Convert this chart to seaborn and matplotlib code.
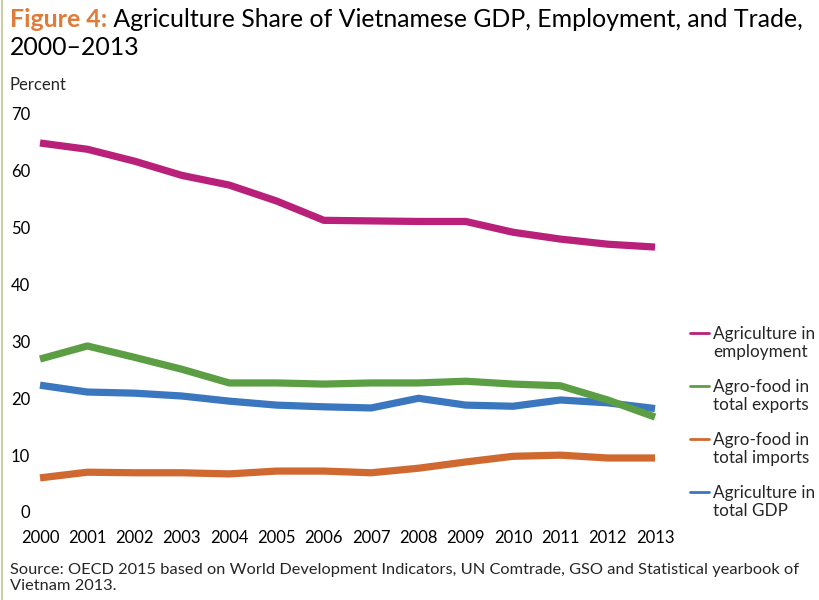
import pandas as pd
import matplotlib.pyplot as plt
import seaborn as sns
from matplotlib.lines import Line2D

# Dados
anos = list(range(2000, 2014))
emprego = [64.9, 63.8, 61.7, 59.2, 57.5, 54.7, 51.3, 51.2, 51.1, 51.1, 49.2, 48.0, 47.1, 46.6]
exportacoes = [26.9, 29.2, 27.2, 25.1, 22.7, 22.7, 22.5, 22.7, 22.7, 23.0, 22.5, 22.2, 19.7, 16.7]
importacoes = [6.0, 7.0, 6.9, 6.9, 6.7, 7.2, 7.2, 6.9, 7.7, 8.8, 9.8, 10.0, 9.5, 9.5]
pib = [22.3, 21.1, 20.9, 20.4, 19.5, 18.8, 18.5, 18.3, 20.0, 18.8, 18.6, 19.7, 19.2, 18.2]

rotulos = ['Agriculture in\nemployment', 'Agro-food in\ntotal exports',
           'Agro-food in\ntotal imports', 'Agriculture in\ntotal GDP']
cores = ['#B8207A', '#5C9E44', '#D0692F', '#3A77BF']

df = pd.DataFrame({'ano': anos * 4,
                   'valor': emprego + exportacoes + importacoes + pib,
                   'serie': sum([[r] * len(anos) for r in rotulos], [])})

sns.set_theme(style='white')
plt.rcParams['font.family'] = ['Lato', 'DejaVu Sans']

fig = plt.figure(figsize=(8.2, 6), dpi=100)
ax = fig.add_axes([40 / 820, 88 / 600, 615 / 820, 398 / 600])

# ordem de desenho: PIB por baixo das exportações
ordem = [3, 2, 1, 0]
for i in ordem:
    sub = df[df['serie'] == rotulos[i]]
    sns.lineplot(data=sub, x='ano', y='valor', color=cores[i], linewidth=5.2,
                 ax=ax, legend=False, clip_on=False, solid_capstyle='butt')

ax.set_xlim(2000, 2013)
ax.set_ylim(0, 70)
ax.set_xticks(anos)
ax.set_yticks(range(0, 71, 10))
ax.set_xlabel('')
ax.set_ylabel('')
ax.tick_params(axis='both', length=0, labelsize=12, colors='black')
ax.tick_params(axis='x', pad=13)
ax.tick_params(axis='y', pad=7)
sns.despine(ax=ax, left=True, bottom=True)
ax.grid(False)

# Legenda manual (traço alinhado com a primeira linha do rótulo)
y_legenda = [333, 386, 439, 492]
for rot, cor, yp in zip(rotulos, cores, y_legenda):
    yf = 1 - yp / 600
    fig.add_artist(Line2D([690 / 820, 709 / 820], [yf, yf], color=cor, linewidth=2))
    fig.text(713 / 820, 1 - (yp + 10) / 600, rot, fontsize=12.3, va='center',
             linespacing=1.12)

# Título
t1 = fig.text(10 / 820, 1 - 27 / 600, 'Figure 4:', fontsize=17.9, fontweight='bold',
              color='#E07B39', va='baseline')
ax.annotate(' Agriculture Share of Vietnamese GDP, Employment, and Trade,',
            xy=(1, 0), xycoords=t1, fontsize=17.9, color='black', va='bottom')
fig.text(10 / 820, 1 - 55 / 600, '2000\u20132013', fontsize=17.9, color='black', va='baseline')

fig.text(10 / 820, 1 - 85 / 600, 'Percent', fontsize=12, va='center')

fig.text(10 / 820, 1 - 578 / 600,
         'Source: OECD 2015 based on World Development Indicators, UN Comtrade, GSO and Statistical yearbook of\nVietnam 2013.',
         fontsize=11.8, va='center', linespacing=1.2)

# borda esquerda
fig.add_artist(Line2D([2 / 820, 2 / 820], [0, 1], color='#C9D0A3', linewidth=1.5))

fig.savefig('out.png', dpi=100)
